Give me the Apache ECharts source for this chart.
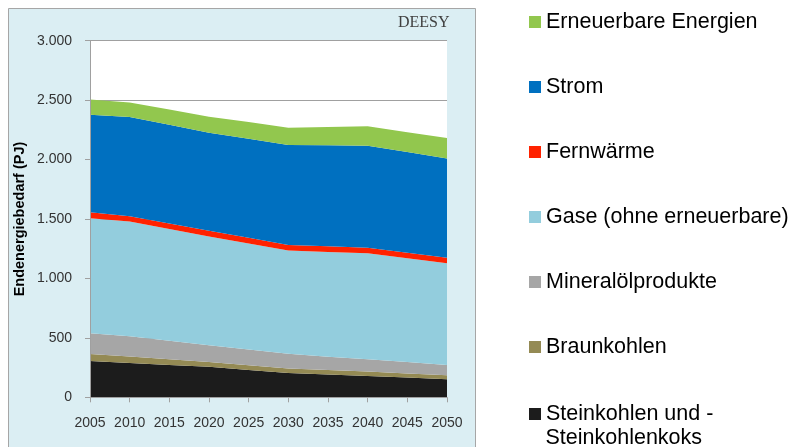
<!DOCTYPE html>
<html>
<head>
<meta charset="utf-8">
<script src="https://cdn.jsdelivr.net/npm/echarts@6/dist/echarts.min.js"></script>
<style>html,body{margin:0;padding:0;background:#fff;}#c{width:791px;height:447px;}</style>
</head>
<body>
<div id="c"></div>
<script>
const years = ['2005','2010','2015','2020','2025','2030','2035','2040','2045','2050'];
const yTicks = [0, 500, 1000, 1500, 2000, 2500, 3000];
const steinkohlen = [305, 288, 272, 256, 230, 204, 192, 180, 166, 152];
const braunkohlen = [60, 55, 48, 40, 40, 39, 37, 36, 35, 34];
const mineraloel = [174, 170, 155, 141, 132, 123, 113, 104, 95, 86];
const gase = [968, 965, 940, 915, 892, 868, 880, 891, 873, 855];
const fernwaerme = [50, 45, 48, 50, 48, 47, 48, 48, 48, 48];
const strom = [819, 835, 830, 824, 833, 842, 850, 858, 846, 835];
const erneuerbare = [130, 123, 129, 135, 140, 145, 154, 163, 167, 171];

const names = ['Steinkohlen und -Steinkohlenkoks','Braunkohlen','Mineralölprodukte','Gase (ohne erneuerbare)','Fernwärme','Strom','Erneuerbare Energien'];
const dataSets = [steinkohlen, braunkohlen, mineraloel, gase, fernwaerme, strom, erneuerbare];
const colors = ['#1c1c1c','#948a54','#a6a6a6','#93cddd','#ff2200','#0070c0','#92c74e'];

const chart = echarts.init(document.getElementById('c'));
const series = names.map((n, i) => ({
  name: n, type: 'line', stack: 'total', data: dataSets[i],
  showSymbol: false, symbol: 'none',
  lineStyle: { width: 0 }, areaStyle: { color: colors[i], opacity: 1 },
  itemStyle: { color: colors[i] }
}));

const legendText = { fontFamily: 'Liberation Sans', fontSize: 21.5, color: '#000', lineHeight: 24 };
const legendMain = names.slice(1).reverse().map(n => ({ name: n, icon: 'rect' }));

chart.setOption({
  animation: false,
  backgroundColor: '#fff',
  graphic: [
    { type: 'rect', shape: { x: 8.5, y: 8.5, width: 467, height: 450 }, style: { fill: '#dbeef3', stroke: '#a6a6a6', lineWidth: 1 }, z: -10 },
    { type: 'text', left: 398, top: 15, style: { text: 'DEESY', fontFamily: 'Liberation Serif', fontSize: 16, fill: '#404040' }, z: 10 },
    { type: 'text', left: 545.5, top: 426, style: { text: 'Steinkohlenkoks', fontFamily: 'Liberation Sans', fontSize: 21.5, fill: '#000', lineHeight: 24 }, z: 10 }
  ],
  legend: [
    {
      orient: 'vertical', left: 529, top: 10, padding: 0, itemWidth: 12, itemHeight: 12, itemGap: 41,
      data: legendMain, textStyle: legendText
    },
    {
      orient: 'vertical', left: 529, top: 402, padding: 0, itemWidth: 12, itemHeight: 12,
      data: [{ name: names[0], icon: 'rect' }],
      formatter: () => 'Steinkohlen und -',
      textStyle: legendText
    }
  ],
  grid: { left: 90, right: 344, top: 40.7, bottom: 49.7, show: true, backgroundColor: '#fff', borderWidth: 0 },
  xAxis: {
    type: 'category', data: years, boundaryGap: false,
    axisLine: { lineStyle: { color: '#a0a0a0', width: 1 } },
    axisTick: { show: true, length: 5, interval: 0, lineStyle: { color: '#a0a0a0' } },
    axisLabel: { fontFamily: 'Liberation Sans', fontSize: 14, color: '#333', margin: 19, interval: 0 },
    splitLine: { show: false }, z: 5
  },
  yAxis: [
    {
      type: 'value', min: 0, max: 3000, interval: 500,
      name: 'Endenergiebedarf (PJ)', nameLocation: 'middle', nameGap: 63, nameRotate: 90,
      nameTextStyle: { fontFamily: 'Liberation Sans', fontSize: 14.5, fontWeight: 'bold', color: '#000' },
      axisLine: { show: false },
      axisTick: { show: false },
      axisLabel: { fontFamily: 'Liberation Sans', fontSize: 14, color: '#333', margin: 18,
        formatter: v => yTicks.includes(v) ? String(v).replace(/\B(?=(\d{3})+(?!\d))/g, '.') : '' },
      splitLine: { show: true, lineStyle: { color: '#a0a0a0', width: 1 } }
    },
    {
      type: 'value', min: 0, max: 3000, interval: 500, position: 'left',
      axisLine: { show: true, lineStyle: { color: '#a0a0a0', width: 1 } },
      axisTick: { show: true, length: 5, lineStyle: { color: '#a0a0a0' } },
      axisLabel: { show: false }, splitLine: { show: false }, z: 5
    }
  ],
  series: series
});
</script>
</body>
</html>
